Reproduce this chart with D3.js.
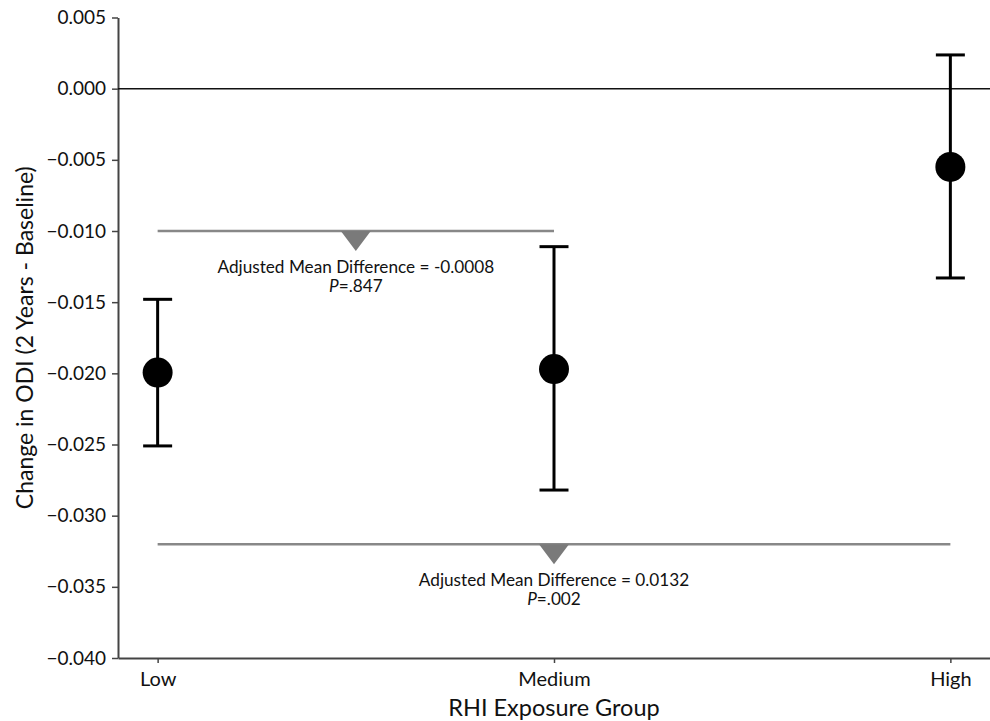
<!DOCTYPE html>
<html>
<head>
<meta charset="utf-8">
<script src="https://cdn.jsdelivr.net/npm/d3@7"></script>
<style>
  body { margin: 0; background: #fff; }
  svg text { font-family: Lato, "Open Sans", sans-serif; fill: #111; }
</style>
</head>
<body>
<svg id="chart" width="990" height="721"></svg>
<script>
// ---- data ----
const categories = ["Low", "Medium", "High"];
const means = [-0.01995, -0.0197, -0.0055];
const ciLower = [-0.0251, -0.0282, -0.0133];
const ciUpper = [-0.0148, -0.0111, 0.00237];
const yTicks = [0.005, 0.000, -0.005, -0.010, -0.015, -0.020, -0.025, -0.030, -0.035, -0.040];
const comparisons = [
  { from: "Low", to: "Medium", y: -0.010, label: "Adjusted Mean Difference = -0.0008", p: ".847" },
  { from: "Low", to: "High", y: -0.032, label: "Adjusted Mean Difference = 0.0132", p: ".002" }
];

// ---- layout ----
const svg = d3.select("#chart");
const mLeft = 118, mRight = 990, mTop = 17.5, mBottom = 658;

const x = d3.scalePoint().domain(categories).range([mLeft, mRight]).padding(0.1);
const y = d3.scaleLinear().domain([-0.040, 0.005]).range([mBottom, mTop]);

// y axis
const yAxis = svg.append("g")
  .attr("transform", `translate(${mLeft},0)`)
  .call(d3.axisLeft(y).tickValues(yTicks).tickFormat(d3.format(".3f")).tickSize(6).tickPadding(6).tickSizeOuter(0));
yAxis.select(".domain").attr("stroke", "#444").attr("stroke-width", 2);
yAxis.selectAll(".tick line").attr("stroke", "#444").attr("stroke-width", 1.5);
yAxis.selectAll(".tick text").style("font-size", "19px").attr("fill", "#111");

// x axis
const xAxis = svg.append("g")
  .attr("transform", `translate(0,${mBottom})`)
  .call(d3.axisBottom(x).tickSize(5).tickPadding(9).tickSizeOuter(0));
xAxis.select(".domain").attr("stroke", "#444").attr("stroke-width", 2);
xAxis.selectAll(".tick line").attr("stroke", "#444").attr("stroke-width", 1.5);
xAxis.selectAll(".tick text").style("font-size", "20px").attr("fill", "#111");

// zero line
svg.append("line")
  .attr("x1", mLeft).attr("x2", mRight)
  .attr("y1", y(0)).attr("y2", y(0))
  .attr("stroke", "#111").attr("stroke-width", 1.5);

// axis titles
svg.append("text")
  .attr("transform", `translate(33,${(mTop + mBottom) / 2}) rotate(-90)`)
  .attr("text-anchor", "middle")
  .style("font-size", "23px")
  .text("Change in ODI (2 Years - Baseline)");

svg.append("text")
  .attr("x", (mLeft + mRight) / 2)
  .attr("y", 716)
  .attr("text-anchor", "middle")
  .style("font-size", "23.5px")
  .text("RHI Exposure Group");

// comparison brackets
comparisons.forEach(c => {
  const x1 = x(c.from), x2 = x(c.to), yy = y(c.y), mx = (x1 + x2) / 2;
  svg.append("line")
    .attr("x1", x1).attr("x2", x2).attr("y1", yy).attr("y2", yy)
    .attr("stroke", "#888").attr("stroke-width", 2.5);
  svg.append("path")
    .attr("d", `M${mx - 15},${yy} L${mx + 15},${yy} L${mx},${yy + 20} Z`)
    .attr("fill", "#7a7a7a");
  svg.append("text")
    .attr("x", mx).attr("y", yy + 42)
    .attr("text-anchor", "middle")
    .style("font-size", "17.2px")
    .text(c.label);
  const t2 = svg.append("text")
    .attr("x", mx).attr("y", yy + 61)
    .attr("text-anchor", "middle")
    .style("font-size", "17.2px");
  t2.append("tspan").style("font-style", "italic").text("P");
  t2.append("tspan").text("=" + c.p);
});

// error bars
const capW = 14.5;
const g = svg.append("g");
categories.forEach((cat, i) => {
  const cx = x(cat);
  g.append("line").attr("x1", cx).attr("x2", cx)
    .attr("y1", y(ciUpper[i])).attr("y2", y(ciLower[i]))
    .attr("stroke", "#000").attr("stroke-width", 3);
  [ciUpper[i], ciLower[i]].forEach(v => {
    g.append("line").attr("x1", cx - capW).attr("x2", cx + capW)
      .attr("y1", y(v)).attr("y2", y(v))
      .attr("stroke", "#000").attr("stroke-width", 3);
  });
  g.append("circle").attr("cx", cx).attr("cy", y(means[i])).attr("r", 15).attr("fill", "#000");
});
</script>
</body>
</html>
